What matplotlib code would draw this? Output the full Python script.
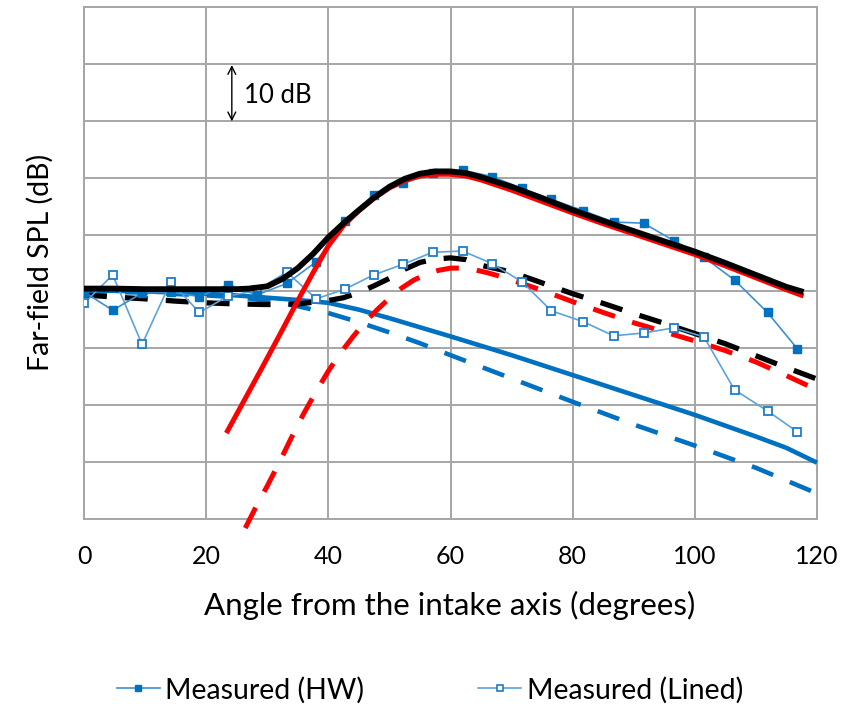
import matplotlib
matplotlib.use("Agg")
import matplotlib.pyplot as plt
from matplotlib.lines import Line2D

plt.rcParams['font.family'] = ['Lato', 'DejaVu Sans']
plt.rcParams['lines.scale_dashes'] = False

# ---- measured data ----
angles_meas = [0, 4.7, 9.5, 14.2, 18.9, 23.6, 28.3, 33.2, 38.0, 42.7, 47.4, 52.3, 57.1,
               62.0, 66.8, 71.7, 76.5, 81.7, 86.7, 91.6, 96.6, 101.5, 106.5, 111.9, 116.8]
spl_hw = [39.9, 36.7, 39.7, 39.9, 39.1, 41.2, 39.4, 41.4, 45.2, 52.4, 56.9, 59.0, 60.8,
          61.3, 60.2, 58.1, 56.2, 54.2, 52.2, 52.0, 48.9, 46.0, 42.0, 36.3, 29.9]
spl_lined = [37.9, 42.9, 30.7, 41.7, 36.3, 39.2, 40.2, 43.4, 38.7, 40.4, 42.9, 44.8, 46.9,
             47.1, 44.9, 41.7, 36.6, 34.7, 32.2, 32.7, 33.6, 32.0, 22.7, 19.0, 15.3]

# ---- model curves ----
ang_black = [0, 5, 10, 15, 20, 25, 27, 30, 32.5, 35, 37.5, 40, 42.5, 45, 47.5, 50, 52.5, 55,
             57.5, 60, 62.5, 65, 70, 75, 80, 85, 90, 95, 100, 105, 110, 115, 117.8]
spl_black = [40.5, 40.5, 40.4, 40.4, 40.4, 40.4, 40.5, 40.9, 42.2, 44.1, 46.6, 49.5, 52.0,
             54.3, 56.5, 58.4, 59.8, 60.7, 61.1, 61.1, 60.8, 60.1, 58.4, 56.4, 54.3, 52.4,
             50.6, 48.8, 47.0, 45.0, 42.9, 40.8, 39.9]

ang_red = [23.3, 26, 29, 32, 35, 37.5, 40, 42.5, 45, 47.5, 50, 52.5, 55, 57.5, 60, 62.5, 65,
           70, 75, 80, 85, 90, 95, 100, 105, 110, 115, 117.8]
spl_red = [15.1, 20.4, 26.3, 32.3, 38.4, 43.3, 48.0, 51.6, 54.2, 56.4, 58.2, 59.5, 60.3, 60.6,
           60.6, 60.3, 59.6, 57.8, 55.8, 53.8, 51.9, 50.1, 48.3, 46.5, 44.5, 42.4, 40.3, 39.2]

ang_blue = [0, 10, 20, 25, 30, 35, 40, 45, 50, 55, 60, 70, 80, 90, 100, 110, 115, 120]
spl_blue = [40.2, 40.0, 39.6, 39.3, 38.9, 38.5, 38.0, 36.8, 35.3, 33.7, 32.1, 28.8, 25.3,
            21.8, 18.3, 14.5, 12.5, 9.9]

ang_blue_d = [0, 10, 20, 25, 30, 35, 40, 45, 50, 55, 60, 70, 80, 90, 100, 110, 120]
spl_blue_d = [40.0, 39.8, 39.3, 39.0, 38.4, 37.4, 36.2, 34.6, 32.8, 30.9, 28.8, 24.7, 20.6,
              16.6, 12.9, 9.0, 4.5]

ang_black_d = [0, 5, 10, 15, 20, 25, 30, 35, 40, 42.5, 45, 47.5, 50, 52.5, 55, 57.5, 60, 62.5,
               65, 67.5, 70, 75, 80, 85, 90, 95, 100, 105, 110, 115, 120]
spl_black_d = [39.4, 39.0, 38.7, 38.3, 38.0, 37.8, 37.7, 37.8, 38.4, 38.9, 39.8, 41.0, 42.3,
               43.9, 45.1, 45.7, 45.9, 45.6, 44.6, 44.0, 43.4, 41.5, 39.6, 37.9, 36.1, 34.4,
               32.6, 30.8, 28.7, 26.6, 24.6]

ang_red_d = [26.4, 28, 30, 32, 34, 36, 38, 40, 42, 44, 46, 48, 50, 52, 54, 56, 58, 60, 62, 64,
             66, 68, 70, 75, 80, 85, 90, 95, 100, 105, 110, 115, 120]
spl_red_d = [-1.6, 1.8, 5.8, 10.0, 14.4, 18.6, 22.4, 26.0, 29.2, 32.0, 34.6, 36.8, 38.8, 40.6,
             42.0, 43.0, 43.7, 44.1, 44.1, 43.8, 43.3, 42.7, 42.0, 40.2, 38.2, 36.3, 34.5, 32.9,
             31.3, 29.6, 27.6, 25.2, 22.7]

x_ticks = [0, 20, 40, 60, 80, 100, 120]

BLUE = '#0070C0'
RED = '#FF0000'
DASH = (16.5, 13)

fig = plt.figure(figsize=(8.52, 7.06), dpi=100)
ax = fig.add_axes([84 / 852, 1 - 519 / 706, (817 - 84) / 852, (519 - 7) / 706])
ax.set_xlim(0, 120)
ax.set_ylim(0, 90)
ax.set_xticks(x_ticks)
ax.set_xticklabels([str(t) for t in x_ticks])
ax.set_yticks(range(0, 91, 10))
ax.set_yticklabels([])
ax.tick_params(length=0, labelsize=18, pad=19)
ax.grid(True, color='#A6A6A6', lw=1.4)
ax.set_axisbelow(True)
for s in ax.spines.values():
    s.set_color('#A6A6A6')
    s.set_linewidth(1.4)

ax.plot(ang_blue, spl_blue, color=BLUE, lw=3.3, solid_capstyle='butt', clip_on=False, zorder=3)
ax.plot(ang_blue_d, spl_blue_d, color=BLUE, lw=3.3, dashes=DASH, dash_capstyle='butt',
        clip_on=False, zorder=3)
ax.plot(ang_red_d, spl_red_d, color=RED, lw=3.6, dashes=DASH, dash_capstyle='butt',
        clip_on=False, zorder=4)
ax.plot(ang_black_d, spl_black_d, color='black', lw=3.8, dashes=DASH, dash_capstyle='butt',
        clip_on=False, zorder=4.5)
ax.plot(angles_meas, spl_lined, color='#5BA3DC', lw=1.2, marker='s', ms=5.3,
        mfc='white', mec='#1F7CC8', mew=1.3, zorder=5)
ax.plot(angles_meas, spl_hw, color='#3F8FD2', lw=1.2, marker='s', ms=5.5,
        mfc=BLUE, mec=BLUE, zorder=5)
ax.plot(ang_red, spl_red, color=RED, lw=3.6, solid_capstyle='butt', zorder=6)
ax.plot(ang_black, spl_black, color='black', lw=4.2, solid_capstyle='butt', zorder=7)

ax.annotate('', xy=(24.2, 79.8), xytext=(24.2, 69.9),
            arrowprops=dict(arrowstyle='<->', lw=1.0, color='black',
                            shrinkA=0, shrinkB=0, mutation_scale=14), zorder=8)
ax.text(26.2, 74.5, '10 dB', fontsize=18.5, va='center', ha='left', zorder=8)

fig.text(450 / 852, 1 - 605 / 706, 'Angle from the intake axis (degrees)', fontsize=22.5,
         ha='center', va='center')
fig.text(40 / 852, 1 - 262 / 706, 'Far-field SPL (dB)', fontsize=20.5, rotation=90,
         ha='center', va='center')

handles = [Line2D([], [], color='#3F8FD2', lw=1.2, marker='s', ms=5, mfc=BLUE, mec=BLUE),
           Line2D([], [], color='#5BA3DC', lw=1.2, marker='s', ms=5, mfc='white',
                  mec='#1F7CC8', mew=1.2)]
fig.legend(handles, ['Measured (HW)', 'Measured (Lined)'], loc='center',
           bbox_to_anchor=(430 / 852, 16 / 706), ncol=2, frameon=False, fontsize=20.5,
           handlelength=1.5, handletextpad=0.2, columnspacing=4.0)

fig.savefig('out.png', dpi=100)
